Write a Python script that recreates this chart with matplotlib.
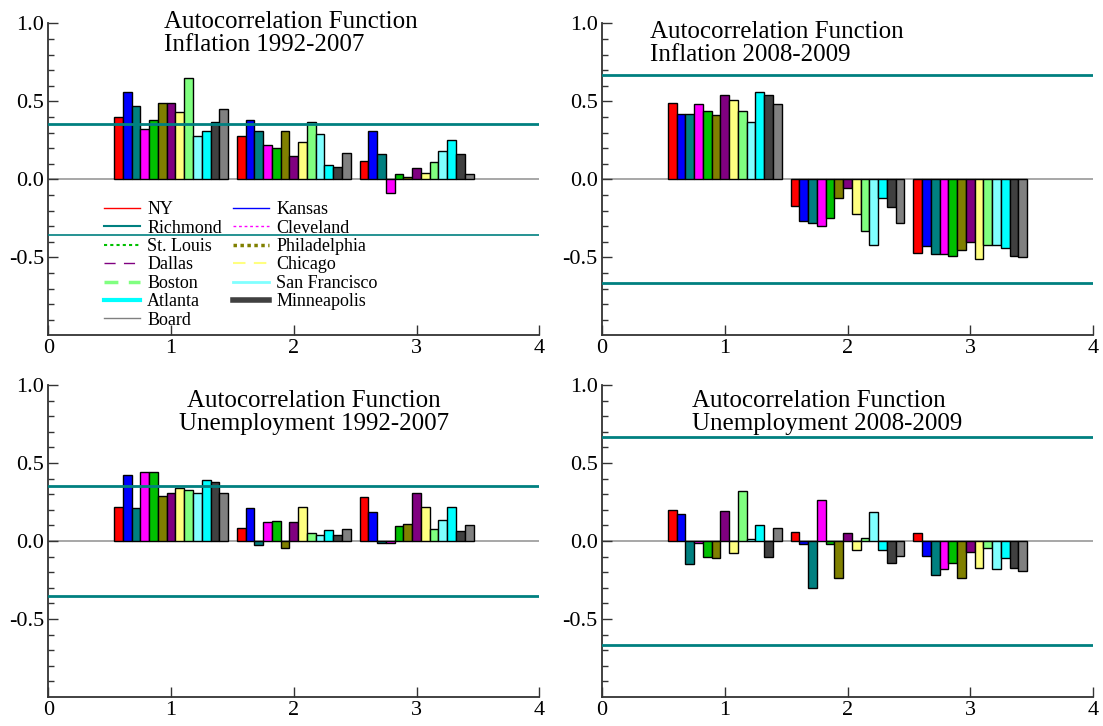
import matplotlib
matplotlib.use("Agg")
import matplotlib.pyplot as plt
from matplotlib.lines import Line2D
from matplotlib.ticker import FixedLocator
import numpy as np

plt.rcParams['font.family'] = ['Liberation Serif', 'DejaVu Serif']

series = ["NY", "Kansas", "Richmond", "Cleveland", "St. Louis", "Philadelphia",
          "Dallas", "Chicago", "Boston", "San Francisco", "Atlanta",
          "Minneapolis", "Board"]
colors = ["#ff0000", "#0000ff", "#008080", "#ff00ff", "#00c000", "#808000",
          "#800080", "#ffff80", "#80ff80", "#80ffff", "#00ffff",
          "#404040", "#808080"]
lags = [1, 2, 3]

# values per lag: rows = lag 1, 2, 3 ; columns follow `series`
infl_92_07 = [
    [0.40, 0.56, 0.47, 0.32, 0.38, 0.49, 0.49, 0.43, 0.65, 0.28, 0.31, 0.37, 0.45],
    [0.28, 0.38, 0.31, 0.22, 0.20, 0.31, 0.15, 0.24, 0.37, 0.29, 0.09, 0.08, 0.17],
    [0.12, 0.31, 0.16, -0.085, 0.036, 0.013, 0.073, 0.038, 0.11, 0.18, 0.25, 0.16, 0.036],
]
infl_08_09 = [
    [0.49, 0.42, 0.42, 0.48, 0.44, 0.41, 0.54, 0.51, 0.44, 0.37, 0.56, 0.54, 0.48],
    [-0.17, -0.27, -0.28, -0.30, -0.25, -0.12, -0.056, -0.22, -0.33, -0.42, -0.12, -0.18, -0.28],
    [-0.47, -0.43, -0.48, -0.48, -0.49, -0.45, -0.40, -0.51, -0.42, -0.42, -0.44, -0.49, -0.50],
]
unemp_92_07 = [
    [0.22, 0.42, 0.21, 0.44, 0.44, 0.29, 0.31, 0.34, 0.33, 0.31, 0.39, 0.38, 0.31],
    [0.085, 0.21, -0.026, 0.12, 0.13, -0.043, 0.12, 0.22, 0.053, 0.038, 0.07, 0.04, 0.074],
    [0.28, 0.185, -0.01, -0.015, 0.098, 0.106, 0.31, 0.215, 0.077, 0.134, 0.217, 0.066, 0.10],
]
unemp_08_09 = [
    [0.20, 0.17, -0.15, -0.011, -0.10, -0.11, 0.19, -0.08, 0.32, 0.013, 0.10, -0.10, 0.085],
    [0.055, -0.021, -0.30, 0.266, -0.017, -0.24, 0.053, -0.06, 0.019, 0.185, -0.055, -0.14, -0.094],
    [0.051, -0.096, -0.22, -0.18, -0.14, -0.24, -0.068, -0.17, -0.045, -0.18, -0.11, -0.17, -0.19],
]
conf_92_07 = 0.354
conf_08_09 = 0.667

panels = [
    (infl_92_07, conf_92_07, "Autocorrelation Function\nInflation 1992-2007"),
    (infl_08_09, conf_08_09, "Autocorrelation Function\nInflation 2008-2009"),
    (unemp_92_07, conf_92_07, "Autocorrelation Function\nUnemployment 1992-2007"),
    (unemp_08_09, conf_08_09, "Autocorrelation Function\nUnemployment 2008-2009"),
]

fig = plt.figure(figsize=(11.03, 7.26), dpi=100)
W, H = 1103, 726
axpos = [
    (48.3, 23.3), (602, 23.3),
    (48.3, 385), (602, 385),
]
title_pos = [(0.94, 1.08, 'left'), (0.39, 1.012, 'left'),
             (2.165, 0.968, 'center'), (0.73, 0.968, 'left')]

bw = 1.0 / 14
n = len(series)
axes = []
for k, (data, conf, title) in enumerate(panels):
    x0, ytop = axpos[k]
    ax = fig.add_axes([x0 / W, 1 - (ytop + 312) / H, 491 / W, 312 / H])
    axes.append(ax)
    ax.axhline(0, color="#a0a0a0", lw=1.3, zorder=1)
    for i in range(n):
        xs = [lag + (i - (n - 1) / 2) * bw for lag in lags]
        vals = [data[j][i] for j in range(len(lags))]
        ax.bar(xs, vals, width=bw, color=colors[i], edgecolor="black",
               linewidth=1.0, zorder=3)
    lw_lo = 1.2 if k == 0 else 2.0
    ax.axhline(conf, color="#008080", lw=2.0, zorder=4)
    ax.axhline(-conf, color="#008080", lw=lw_lo, zorder=4)
    ax.set_xlim(0, 4)
    ax.set_ylim(-1, 1)
    ax.set_xticks([0, 1, 2, 3, 4])
    ax.set_yticks([-0.5, 0.0, 0.5, 1.0])
    ax.set_yticklabels(["-0.5", "0.0", "0.5", "1.0"])
    ax.yaxis.set_minor_locator(FixedLocator(np.arange(-0.9, 1.0, 0.1)))
    ax.tick_params(axis='both', which='major', direction='in', length=7,
                   width=1.0, color="#333333", labelsize=16, pad=3)
    ax.tick_params(axis='y', which='minor', direction='in', length=4.5,
                   width=1.0, color="#333333")
    for s in ("top", "right"):
        ax.spines[s].set_visible(False)
    for s in ("left", "bottom"):
        ax.spines[s].set_color("#333333")
        ax.spines[s].set_linewidth(1.3)
    tx, ty, ha = title_pos[k]
    ax.text(tx, ty, title, ha=ha, va='top', fontsize=18, linespacing=1.05,
            transform=ax.transData, clip_on=False, multialignment=ha)

# legend in first panel
handle_styles = {
    "NY": dict(color="#ff0000", lw=1.0, ls="-"),
    "Richmond": dict(color="#008080", lw=1.5, ls="-"),
    "St. Louis": dict(color="#00c000", lw=1.5, ls=(0, (1.5, 1.5))),
    "Dallas": dict(color="#800080", lw=1.0, ls=(0, (8, 6))),
    "Boston": dict(color="#80ff80", lw=2.5, ls=(0, (4, 3))),
    "Atlanta": dict(color="#00ffff", lw=3.0, ls="-"),
    "Board": dict(color="#808080", lw=1.0, ls="-"),
    "Kansas": dict(color="#0000ff", lw=1.0, ls="-"),
    "Cleveland": dict(color="#ff00ff", lw=1.0, ls=(0, (2, 2))),
    "Philadelphia": dict(color="#808000", lw=2.5, ls=(0, (1, 1))),
    "Chicago": dict(color="#ffff80", lw=1.5, ls=(0, (6, 4))),
    "San Francisco": dict(color="#80ffff", lw=2.0, ls="-"),
    "Minneapolis": dict(color="#404040", lw=4.0, ls="-"),
}
order = ["NY", "Richmond", "St. Louis", "Dallas", "Boston", "Atlanta", "Board",
         "Kansas", "Cleveland", "Philadelphia", "Chicago", "San Francisco", "Minneapolis"]
handles = [Line2D([0], [0], **handle_styles[s]) for s in order]
axes[0].legend(handles, order, ncol=2, loc='upper left',
               bbox_to_anchor=(0.113, 0.43), frameon=False, fontsize=13,
               borderpad=0, borderaxespad=0, labelspacing=0.08,
               handlelength=2.0, handletextpad=0.4, columnspacing=0.6)

fig.savefig("out.png", dpi=100)
